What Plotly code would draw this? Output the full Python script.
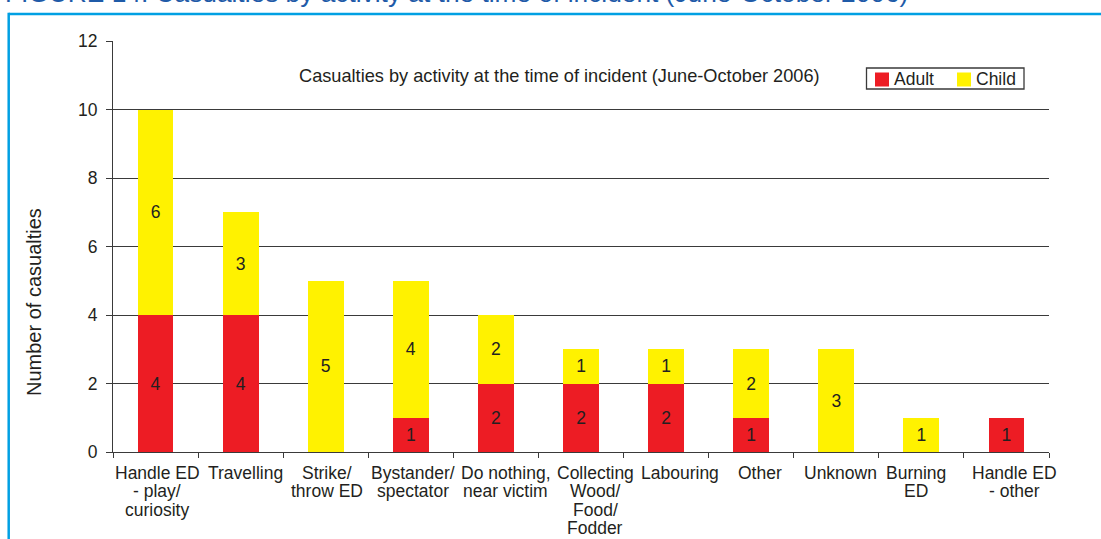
import plotly.graph_objects as go

categories = ["Handle ED<br>- play/<br>curiosity", "Travelling", "Strike/<br>throw ED",
              "Bystander/<br>spectator", "Do nothing,<br>near victim",
              "Collecting<br>Wood/<br>Food/<br>Fodder", "Labouring", "Other", "Unknown",
              "Burning<br>ED", "Handle ED<br>- other"]
adult = [4, 4, 0, 1, 2, 2, 2, 1, 0, 0, 1]
child = [6, 3, 5, 4, 2, 1, 1, 2, 3, 1, 0]
series_names = ["Adult", "Child"]
y_ticks = [0, 2, 4, 6, 8, 10, 12]
grid_vals = [2, 4, 6, 8, 10]

# style: horizontal nudge (px) of each category label, as laid out in the original
label_nudge = [1.5, 5, 1, 2, 10, 14, 14, 9, 4, -5, 8]

RED = "#ED1C24"
YEL = "#FFF200"
TXT = "#231F20"
AX = "#3a3a3a"
FONT = "Liberation Sans, Arial, sans-serif"
FS = 17.5

def lab(v):
    return [str(x) if x else "" for x in v]

fig = go.Figure()
for vals, name, col in [(adult, series_names[0], RED), (child, series_names[1], YEL)]:
    fig.add_trace(go.Bar(x=categories, y=vals, name=name, marker=dict(color=col, line=dict(width=0)),
                         text=lab(vals), textposition="inside", insidetextanchor="middle",
                         textfont=dict(size=FS, color=TXT, family=FONT), textangle=0,
                         constraintext="none", width=0.42, showlegend=False))
# invisible trace on overlay axis used only for the gridlines
fig.add_trace(go.Scatter(x=[categories[0]], y=[0], yaxis="y2", mode="markers",
                         marker=dict(opacity=0, size=1), showlegend=False, hoverinfo="skip"))

L, R, T, B = 113, 52, 41, 87
W, H = 1101, 539
pw = W - L - R
ph = H - T - B

def px2x(px):
    return (px - L) / pw

def py2y(py):
    return (H - B - py) / ph

annotations = [
    dict(text="Casualties by activity at the time of incident (June-October 2006)",
         xref="paper", yref="paper", x=px2x(559), y=py2y(76), xanchor="center",
         yanchor="middle", showarrow=False, font=dict(size=18.2, color=TXT, family=FONT)),
    dict(text="FIGURE 14: Casualties by activity at the time of incident (June-October 2006)",
         xref="paper", yref="paper", x=px2x(3), y=py2y(-7), xanchor="left",
         yanchor="middle", showarrow=False, font=dict(size=26.3, color="#1F5BA8", family=FONT)),
    dict(text="Number of casualties", xref="paper", yref="paper", x=px2x(34), y=py2y(302),
         xanchor="center", yanchor="middle", textangle=-90, showarrow=False,
         font=dict(size=20, color=TXT, family=FONT)),
]
# category labels, one annotation per line for tight line spacing
for c, nudge in zip(categories, label_nudge):
    for i, line in enumerate(c.split("<br>")):
        annotations.append(dict(text=line, xref="x", yref="paper", x=c, y=0,
                                xanchor="center", yanchor="middle", showarrow=False,
                                xshift=nudge, yshift=-(21 + 18.3 * i),
                                font=dict(size=FS, color=TXT, family=FONT)))

# legend (drawn as a framed key)
shapes = [
    dict(type="line", xref="paper", yref="paper", x0=px2x(8.7), x1=px2x(W + 5),
         y0=py2y(14), y1=py2y(14), line=dict(color="#00A0E3", width=2.5)),
    dict(type="line", xref="paper", yref="paper", x0=px2x(8.7), x1=px2x(8.7),
         y0=py2y(12.8), y1=py2y(H + 5), line=dict(color="#00A0E3", width=2.5)),
    dict(type="rect", xref="paper", yref="paper", x0=px2x(866.5), x1=px2x(1024),
         y0=py2y(68), y1=py2y(89), line=dict(color=AX, width=1.3), fillcolor="white"),
]
key_x = [875, 957]
for kx, name, col in zip(key_x, series_names, [RED, YEL]):
    shapes.append(dict(type="rect", xref="paper", yref="paper", x0=px2x(kx), x1=px2x(kx + 14),
                       y0=py2y(72.5), y1=py2y(86.5), line=dict(width=0), fillcolor=col))
    annotations.append(dict(text=name, xref="paper", yref="paper", x=px2x(kx + 17), y=py2y(79),
                            xanchor="left", yanchor="middle", showarrow=False,
                            font=dict(size=FS, color=TXT, family=FONT)))

fig.update_layout(
    barmode="stack",
    width=W, height=H,
    margin=dict(l=L, r=R, t=T, b=B, autoexpand=False),
    paper_bgcolor="white", plot_bgcolor="white",
    font=dict(family=FONT, size=FS, color=TXT),
    showlegend=False,
    xaxis=dict(type="category", range=[-0.5, len(categories) - 0.5], tickson="boundaries",
               ticks="outside", ticklen=5,
               tickcolor=AX, showline=True, linecolor=AX, linewidth=1,
               showgrid=False, showticklabels=False, automargin=False),
    yaxis=dict(range=[0, 12], tickvals=y_ticks, ticks="outside", ticklen=6,
               tickcolor=AX, showline=True, linecolor=AX, linewidth=1,
               showgrid=False, zeroline=False, tickfont=dict(size=FS, color=TXT, family=FONT),
               ticklabelstandoff=5, automargin=False),
    yaxis2=dict(range=[0, 12], overlaying="y", tickvals=grid_vals, showgrid=True,
                gridcolor=AX, gridwidth=1, showticklabels=False, ticks="",
                zeroline=False, showline=False),
    annotations=annotations,
    shapes=shapes,
)

fig.write_html("out.html", config={"displayModeBar": False},
               post_script="document.body.style.margin='0';document.body.style.overflow='hidden';")
